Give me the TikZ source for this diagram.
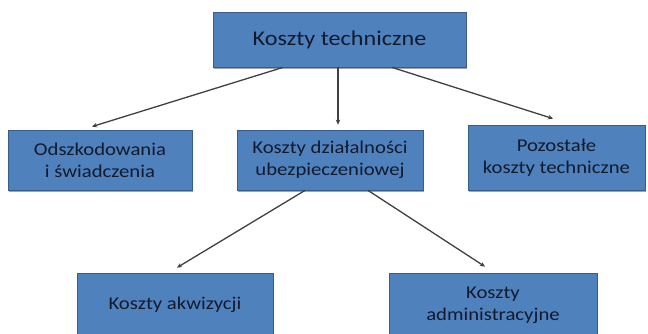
\documentclass[tikz,border=0pt]{standalone}
\usepackage{fontspec}
\setmainfont{Carlito}[FakeStretch=1.15]
\usepackage{tikz}
\usetikzlibrary{arrows.meta, positioning, shadows}
\definecolor{boxblue}{RGB}{79, 129, 189}
\definecolor{boxedge}{RGB}{56, 93, 138}
\definecolor{boxtext}{RGB}{18, 26, 44}
\definecolor{linegray}{RGB}{64, 64, 64}

\begin{document}
\begin{tikzpicture}[
  x=1pt, y=-1pt,
  box/.style={
    rectangle, draw=boxedge, line width=0.8pt, fill=boxblue,
    drop shadow={shadow xshift=1pt, shadow yshift=-1.5pt, fill=black!45, opacity=0.8},
    text centered, text=boxtext, inner sep=0pt,
    font=\fontsize{18}{22}\selectfont,
    align=center
  },
  arrow/.style={-{Stealth[length=5pt, width=4.5pt]}, line width=1.3pt, color=linegray}
]
  \clip (0,0) rectangle (648,333);
  \node[box, minimum width=253pt, minimum height=55pt,
        font=\fontsize{21}{25}\selectfont] (tech) at (339.5,39.5) {Koszty techniczne};

  \node[box, minimum width=184pt, minimum height=60pt] (odsz) at (100,160) {Odszkodowania\\i świadczenia};
  \node[box, minimum width=186pt, minimum height=60pt] (dzial) at (330,160) {Koszty działalności\\ubezpieczeniowej};
  \node[box, minimum width=177pt, minimum height=65pt] (poz) at (556.5,157.5) {Pozostałe\\koszty techniczne};

  \node[box, minimum width=196pt, minimum height=64pt] (akw) at (175,305) {Koszty akwizycji};
  \node[box, minimum width=208pt, minimum height=64pt] (adm) at (493,305) {Koszty\\administracyjne};

  \draw[arrow] ([xshift=-56.5pt]tech.south) -- ([xshift=-8pt, yshift=3pt]odsz.north);
  \draw[arrow] ([xshift=-1.5pt]tech.south) -- ([xshift=8pt, yshift=5pt]dzial.north);
  \draw[arrow] ([xshift=52.5pt]tech.south) -- ([xshift=-3.5pt, yshift=6pt]poz.north);
  \draw[arrow] ([xshift=-25pt]dzial.south) -- ([xshift=2pt, yshift=5pt]akw.north);
  \draw[arrow] ([xshift=38pt]dzial.south) -- ([xshift=-8pt, yshift=6pt]adm.north);
\end{tikzpicture}
\end{document}
